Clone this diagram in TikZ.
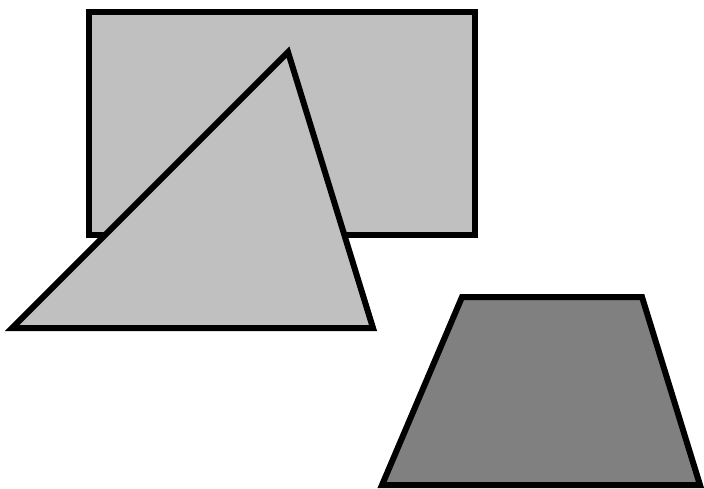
\documentclass[tikz,border=0pt]{standalone}
\usepackage{tikz}
\definecolor{lightshape}{HTML}{C0C0C0}
\definecolor{darkshape}{HTML}{808080}

\begin{document}
\begin{tikzpicture}[x=0.5pt, y=-0.5pt,
  shapeline/.style={line width=3pt, line join=miter, draw=black},
  lightfill/.style={shapeline, fill=lightshape},
  darkfill/.style={shapeline, fill=darkshape},
]
\useasboundingbox (0,0) rectangle (704,488);
% --- rectangle ---
\draw[lightfill] (89,12) rectangle (475,235);
% --- triangle ---
\draw[lightfill] (288,52) -- (373,328) -- (12,328) -- cycle;
% --- trapezoid ---
\draw[darkfill] (462,297) -- (642,297) -- (700,485) -- (382,485) -- cycle;
\end{tikzpicture}
\end{document}
